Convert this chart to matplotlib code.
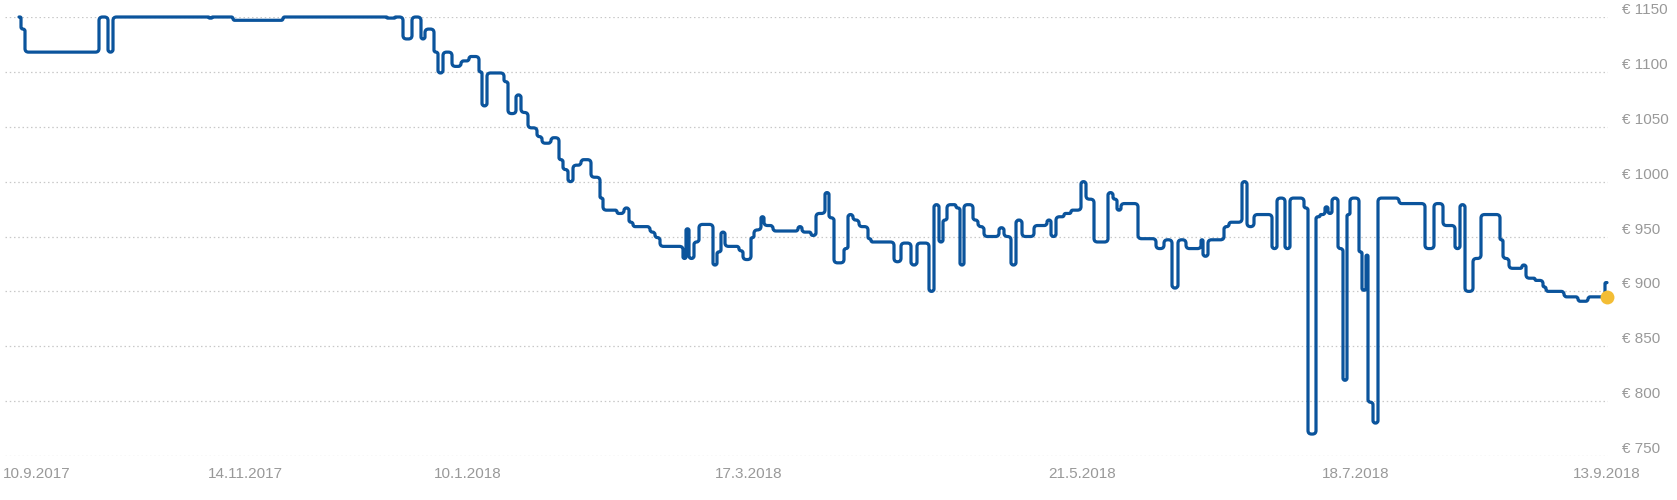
import matplotlib
matplotlib.use("Agg")
import numpy as np
import matplotlib.pyplot as plt
from matplotlib.transforms import ScaledTranslation
from matplotlib.path import Path
from matplotlib.patches import PathPatch

# Step data: position along the time axis (chart index units) and price (EUR)
step_pos = [19, 21, 25, 99, 108, 113, 209, 212, 233, 283, 387, 395, 403, 412, 421, 425,
            434, 438, 443, 452, 461, 469, 479, 482, 487, 504, 508, 516, 521, 528, 537, 542,
            551, 559, 563, 568, 573, 581, 591, 600, 603, 617, 624, 629, 633, 650, 655, 660,
            683, 686, 689, 694, 699, 713, 717, 721, 725, 739, 743, 751, 754, 761, 764, 773,
            798, 802, 811, 816, 825, 829, 834, 844, 848, 853, 859, 868, 871, 894, 901, 911,
            917, 929, 934, 939, 943, 947, 956, 960, 964, 973, 978, 984, 999, 1004, 1011, 1016,
            1022, 1034, 1047, 1051, 1056, 1064, 1071, 1081, 1086, 1094, 1108, 1113, 1117, 1121, 1138, 1156,
            1164, 1172, 1178, 1186, 1201, 1203, 1208, 1224, 1229, 1242, 1247, 1254, 1272, 1277, 1285, 1290,
            1304, 1308, 1316, 1320, 1325, 1328, 1332, 1338, 1343, 1347, 1350, 1359, 1362, 1366, 1368, 1373,
            1378, 1399, 1425, 1434, 1443, 1455, 1460, 1465, 1473, 1481, 1500, 1503, 1509, 1522, 1526, 1535,
            1543, 1546, 1564, 1578, 1588, 1605, 1607]
step_price = [1150, 1139, 1118, 1150, 1118, 1150, 1149, 1150, 1147, 1150, 1149, 1150, 1130, 1150, 1130, 1139,
              1118, 1099, 1118, 1105, 1110, 1114, 1100, 1069, 1099, 1091, 1062, 1079, 1063, 1049, 1041, 1035,
              1040, 1020, 1011, 1000, 1015, 1020, 1004, 985, 974, 971, 976, 963, 959, 954, 949, 941,
              930, 957, 930, 945, 961, 924, 936, 954, 941, 937, 929, 949, 956, 968, 960, 955,
              959, 954, 951, 971, 990, 967, 926, 939, 970, 965, 959, 948, 945, 927, 944, 924,
              944, 900, 979, 945, 965, 979, 976, 924, 979, 965, 959, 950, 958, 950, 924, 965,
              950, 960, 965, 950, 968, 971, 974, 1000, 984, 945, 990, 984, 974, 980, 948, 939,
              947, 903, 947, 939, 947, 932, 947, 959, 963, 1000, 959, 970, 939, 985, 939, 985,
              976, 770, 968, 970, 977, 971, 985, 939, 819, 970, 985, 936, 901, 933, 799, 780,
              985, 980, 939, 980, 960, 939, 979, 900, 930, 970, 947, 930, 921, 924, 912, 910,
              904, 900, 895, 891, 895, 908, 908]

current_pos = 1607
current_price = 895

tick_pos = [19, 245, 468, 749, 1082, 1356, 1607]
tick_labels = ["10.9.2017", "14.11.2017", "10.1.2018", "17.3.2018", "21.5.2018", "18.7.2018", "13.9.2018"]
y_ticks = [750, 800, 850, 900, 950, 1000, 1050, 1100, 1150]
y_labels = [f"€ {v}" for v in y_ticks]

plt.rcParams['font.family'] = ['Liberation Sans', 'DejaVu Sans']

W, H = 1677, 500
fig = plt.figure(figsize=(W / 100, H / 100), dpi=100)
left, right = 5 / W, 1608 / W
bottom, top = 1 - 456 / H, 1 - 17 / H
ax = fig.add_axes([left, bottom, right - left, top - bottom])
ax.set_xlim(5, 1608)
ax.set_ylim(750, 1150)

# step vertices (steps-post)
verts = []
for i in range(len(step_pos)):
    verts.append((step_pos[i], step_price[i]))
    if i + 1 < len(step_pos):
        verts.append((step_pos[i + 1], step_price[i]))
disp = ax.transData.transform(np.array(verts, dtype=float))
clean = [disp[0]]
for p in disp[1:]:
    if np.hypot(*(p - clean[-1])) > 1e-6:
        clean.append(p)
clean = np.array(clean)

R = 3.5  # corner radius in pixels
pv = [clean[0]]
codes = [Path.MOVETO]
for k in range(1, len(clean) - 1):
    A, P, B = clean[k - 1], clean[k], clean[k + 1]
    la, lb = np.hypot(*(A - P)), np.hypot(*(B - P))
    r = min(R, la / 2, lb / 2)
    P1 = P + (A - P) / la * r
    P2 = P + (B - P) / lb * r
    pv += [P1, P, P2]
    codes += [Path.LINETO, Path.CURVE3, Path.CURVE3]
pv.append(clean[-1])
codes.append(Path.LINETO)
pv_data = ax.transData.inverted().transform(np.array(pv))
path = Path(pv_data, codes)
patch = PathPatch(path, facecolor='none', edgecolor='#0b549c', lw=2.3,
                  joinstyle='round', capstyle='round', clip_on=False, zorder=3)
ax.add_patch(patch)

ax.plot([current_pos], [current_price], 'o', color='#f3bd35', markersize=10,
        markeredgewidth=0, clip_on=False, zorder=4)

for s in ax.spines.values():
    s.set_visible(False)

ax.set_yticks(y_ticks)
ax.set_yticklabels(y_labels)
ax.yaxis.tick_right()
ax.tick_params(axis='y', length=0, pad=10, labelsize=11, labelcolor='#999999')
ax.grid(axis='y', color='#c8c8c8', linestyle=(0, (1.2, 2.2)), linewidth=0.9)
ax.grid(axis='x', visible=False)

ax.set_xticks(tick_pos)
ax.set_xticklabels(tick_labels)
ax.tick_params(axis='x', length=0, pad=8, labelsize=11, labelcolor='#999999')

off_up = ScaledTranslation(0, 7 / 100, fig.dpi_scale_trans)
for lab in ax.get_yticklabels():
    lab.set_transform(lab.get_transform() + off_up)
    lab.set_verticalalignment('center')

xl = ax.get_xticklabels()
xl[0].set_horizontalalignment('left')
xl[0].set_transform(xl[0].get_transform() + ScaledTranslation(-16 / 100, 0, fig.dpi_scale_trans))

fig.savefig('out.png', dpi=100, facecolor='white')
